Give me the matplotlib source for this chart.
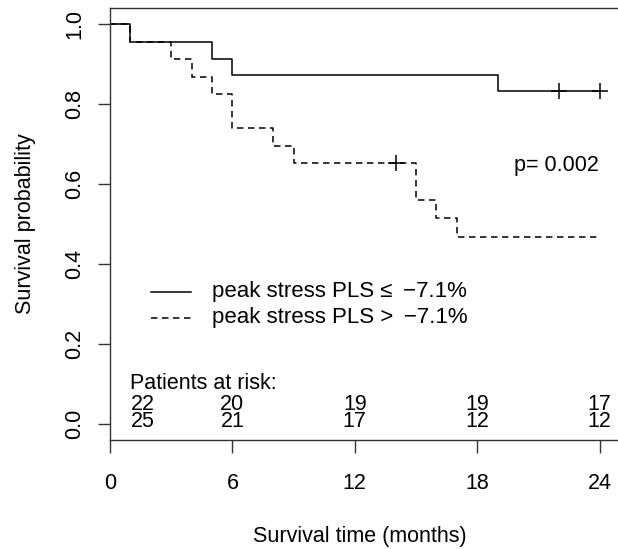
"""
Kaplan-Meier curves by peak stress PLS, redrawn from the published figure.
"""

import matplotlib
matplotlib.use("Agg")
import matplotlib.pyplot as plt

plt.rcParams["font.family"] = ["Liberation Sans", "DejaVu Sans"]

# step curves (time in months, survival probability)
low_times = [0, 1, 5, 6, 19]
low_surv = [1.0, 0.954, 0.912, 0.873, 0.833]
low_censor = [22, 24]

high_times = [0, 1, 3, 4, 5, 6, 8, 9, 15, 16, 17]
high_surv = [1.0, 0.956, 0.912, 0.868, 0.825, 0.739, 0.696, 0.652, 0.560, 0.514, 0.467]
high_censor = [14]

END_TIME = 24

risk_times = [0, 6, 12, 18, 24]
risk_low = [22, 20, 19, 19, 17]
risk_high = [25, 21, 17, 12, 12]

labels = ["peak stress PLS \u2264\u2009 \u22127.1%",
          "peak stress PLS >\u2009 \u22127.1%"]
p_text = "p= 0.002"

FS = 15.5
FS_LEG = 16
LW = 1.1
DASH = (0, (4.2, 3.0))


def surv_at(times, surv, t):
    s = surv[0]
    for ti, si in zip(times, surv):
        if ti <= t:
            s = si
    return s


def main():
    fig = plt.figure(figsize=(6.18, 5.49), dpi=100)
    # axes run off the right edge like the cropped original
    ax = fig.add_axes([110 / 618, 109 / 549, 510 / 618, 432 / 549])

    for times, surv, cens, ls in [(low_times, low_surv, low_censor, "-"),
                                  (high_times, high_surv, high_censor, DASH)]:
        ax.step(times + [END_TIME], surv + [surv[-1]], where="post",
                color="black", lw=LW, ls=ls)
        ax.plot(cens, [surv_at(times, surv, c) for c in cens], "+",
                color="black", ms=11, mew=1.1)

    ax.set_xlim(0, 25)
    ax.set_ylim(-0.04, 1.04)
    ax.set_xticks([0, 6, 12, 18, 24])
    ax.set_yticks([0.0, 0.2, 0.4, 0.6, 0.8, 1.0])
    ax.set_yticklabels([f"{v:.1f}" for v in ax.get_yticks()])
    ax.tick_params(axis="both", direction="out", length=9, width=1.0,
                   labelsize=FS, color="#333333")
    ax.tick_params(axis="x", pad=15)
    ax.tick_params(axis="y", pad=9)
    plt.setp(ax.get_yticklabels(), rotation=90, va="center")
    for sp in ax.spines.values():
        sp.set_linewidth(1.0)
        sp.set_color("#333333")

    ax.set_xlabel("Survival time (months)", fontsize=FS)
    ax.xaxis.set_label_coords(0.49, -0.2)
    ax.set_ylabel("Survival probability", fontsize=FS)
    ax.yaxis.set_label_coords(-0.145, 0.5)

    # legend drawn by hand, R style
    ax.plot([2.0, 3.95], [0.33, 0.33], color="black", lw=LW)
    ax.plot([2.0, 3.95], [0.265, 0.265], color="black", lw=LW, ls=DASH)
    ax.text(5.0, 0.33, labels[0], fontsize=FS_LEG, va="center")
    ax.text(5.0, 0.265, labels[1], fontsize=FS_LEG, va="center")

    ax.text(21.9, 0.632, p_text, fontsize=FS, ha="center", va="baseline")

    # numbers at risk, one two-line block per time point
    ax.text(1.0, 0.088, "Patients at risk:", fontsize=FS, va="baseline")
    for t, n1, n2 in zip(risk_times, risk_low, risk_high):
        x, ha = (1.0, "left") if t == 0 else (t, "center")
        ax.text(x, -0.008, f"{n1}\n{n2}", fontsize=FS, ha=ha, va="baseline",
                multialignment=ha, linespacing=0.76)

    fig.savefig("out.png", dpi=100)


if __name__ == "__main__":
    main()
